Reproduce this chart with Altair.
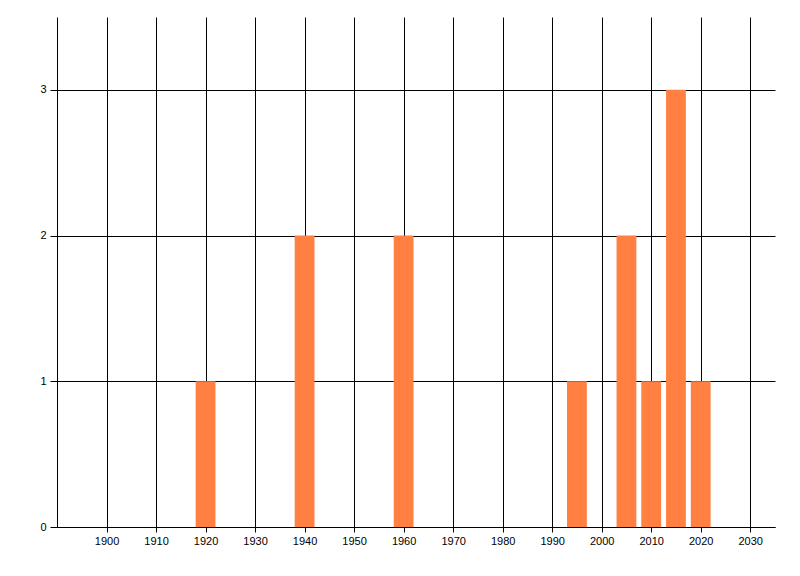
import altair as alt
import pandas as pd

years = [1920, 1940, 1960, 1995, 2005, 2010, 2015, 2020]
counts = [1, 2, 2, 1, 2, 1, 3, 1]
x_ticks = list(range(1900, 2031, 10))
y_ticks = [0, 1, 2, 3]

df = pd.DataFrame({"year": years, "count": counts})
df["x0"] = df["year"] - 2
df["x1"] = df["year"] + 2

chart = alt.Chart(df).mark_rect(color="#FF8040").encode(
    x=alt.X("x0:Q", scale=alt.Scale(domain=[1890, 2035], nice=False, zero=False),
            axis=alt.Axis(values=x_ticks, title=None, format="d", grid=True,
                          gridColor="black", gridOpacity=1, domainColor="black",
                          tickColor="black", tickSize=5, labelColor="black",
                          labelFontSize=11, labelFont="Liberation Sans", labelPadding=3)),
    x2="x1:Q",
    y=alt.Y("count:Q", scale=alt.Scale(domain=[0, 3.5], nice=False),
            axis=alt.Axis(values=y_ticks, title=None, grid=True, gridColor="black",
                          gridOpacity=1, domainColor="black", tickColor="black",
                          tickSize=7, labelColor="black", labelFontSize=11,
                          labelFont="Liberation Sans", labelPadding=4)),
    y2=alt.datum(0),
).properties(
    width=718, height=510,
    autosize=alt.AutoSizeParams(type="none"),
    padding={"left": 49, "top": 9, "right": 10, "bottom": 40},
).configure_view(stroke=None)

chart.save("out.html", embed_options={"renderer": "svg", "actions": False})
